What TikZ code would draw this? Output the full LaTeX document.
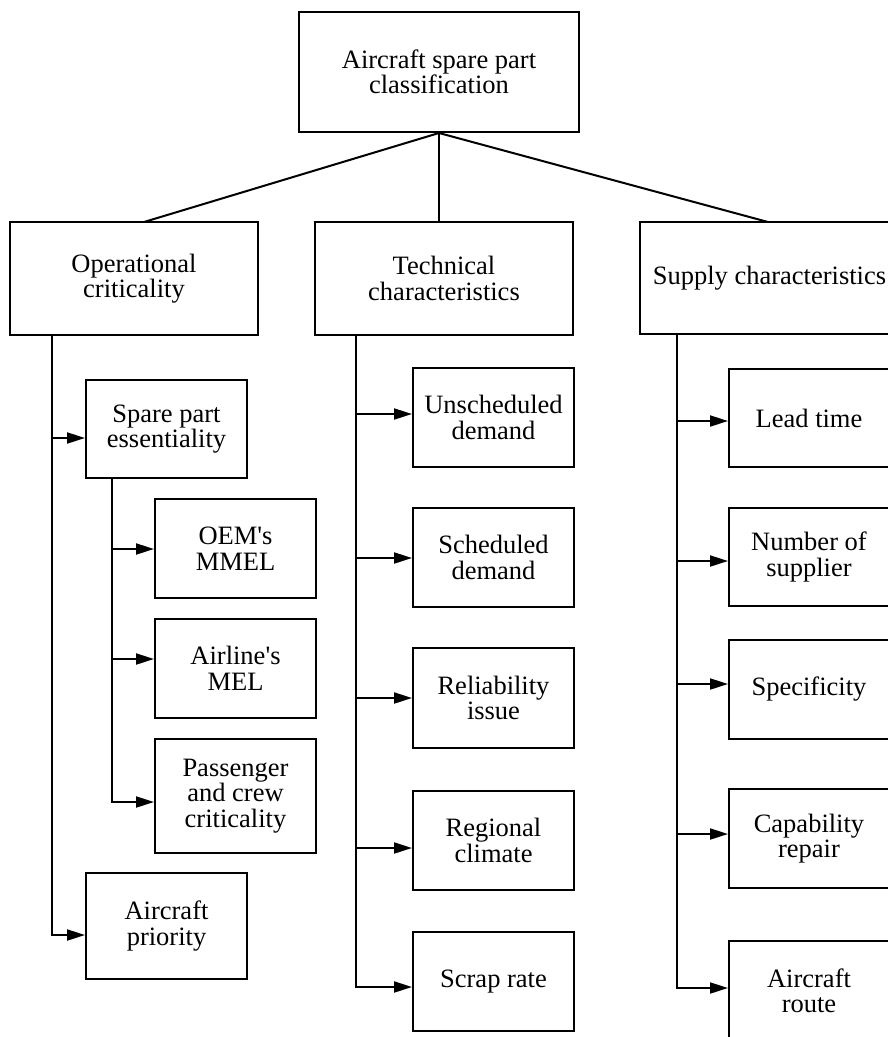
\documentclass[tikz,border=0pt]{standalone}
\usepackage{fontspec}
\setmainfont{Liberation Serif}
\usetikzlibrary{arrows.meta,calc}
\tikzset{
  box/.style={draw, line width=2pt, rectangle, align=center, inner sep=0pt,
    font=\fontsize{26.5}{25.5}\selectfont},
  wire/.style={line width=2pt},
  arr/.style={line width=2pt, -{Triangle[length=18pt,width=11pt]}}
}
\begin{document}
\begin{tikzpicture}[x=1pt,y=-1pt]
\useasboundingbox (0,0) rectangle (888,1037);
\clip (0,0) rectangle (888,1037);
% top
\node[box, minimum width=280pt, minimum height=120pt] (top) at (439,72) {Aircraft spare part\\classification};
% level 2
\node[box, minimum width=248pt, minimum height=113pt] (op) at (134,278.5) {Operational\\criticality};
\node[box, minimum width=258pt, minimum height=113pt] (tech) at (444,278.5) {Technical\\characteristics};
\node[box, minimum width=259pt, minimum height=112pt] (sup) at (769.5,278) {Supply characteristics};
% operational subtree
\node[box, minimum width=161pt, minimum height=98pt] (spe) at (166.5,429) {Spare part\\essentiality};
\node[box, minimum width=161pt, minimum height=99pt] (oem) at (235.5,548.5) {OEM\textquotesingle s\\MMEL};
\node[box, minimum width=161pt, minimum height=99pt] (air) at (235.5,668.5) {Airline\textquotesingle s\\MEL};
\node[box, minimum width=161pt, minimum height=114pt] (pas) at (235.5,796) {Passenger\\and crew\\criticality};
\node[box, minimum width=161pt, minimum height=106pt] (pri) at (166.5,926) {Aircraft\\priority};
% technical subtree
\node[box, minimum width=161pt, minimum height=99pt] (uns) at (493.5,417.5) {Unscheduled\\demand};
\node[box, minimum width=161pt, minimum height=99pt] (sch) at (493.5,557.5) {Scheduled\\demand};
\node[box, minimum width=161pt, minimum height=100pt] (rel) at (493.5,698) {Reliability\\issue};
\node[box, minimum width=161pt, minimum height=99pt] (reg) at (493.5,840.5) {Regional\\climate};
\node[box, minimum width=161pt, minimum height=99pt] (scr) at (493.5,981.5) {Scrap rate};
% supply subtree
\node[box, minimum width=160pt, minimum height=98pt] (lead) at (809,418) {Lead time};
\node[box, minimum width=160pt, minimum height=98pt] (num) at (809,557) {Number of\\supplier};
\node[box, minimum width=160pt, minimum height=99pt] (spec) at (809,689.5) {Specificity};
\node[box, minimum width=160pt, minimum height=99pt] (cap) at (809,838.5) {Capability\\repair};
\node[box, minimum width=160pt, minimum height=100pt] (route) at (809,991) {Aircraft\\route};
% top connectors
\coordinate (opIn) at (144,222);
\coordinate (supIn) at (768,222);
\draw[wire] (top.south) -- (opIn);
\draw[wire] (top.south) -- (top.south |- tech.north);
\draw[wire] (top.south) -- (supIn);
% operational branches
\coordinate (o1) at (52,438);
\coordinate (o2) at (52,935);
\coordinate (s0) at (112,478);
\coordinate (s1) at (112,549);
\coordinate (s2) at (112,659);
\coordinate (s3) at (112,802);
\draw[arr] (op.south -| o1) |- (pri.west |- o2);
\draw[arr] (o1) -- (spe.west |- o1);
\draw[arr] (s0) |- (pas.west |- s3);
\draw[arr] (s1) -- (oem.west |- s1);
\draw[arr] (s2) -- (air.west |- s2);
% technical branches
\coordinate (t1) at (356,414);
\coordinate (t2) at (356,558);
\coordinate (t3) at (356,698);
\coordinate (t4) at (356,848);
\coordinate (t5) at (356,987);
\draw[arr] (tech.south -| t1) |- (scr.west |- t5);
\draw[arr] (t1) -- (uns.west |- t1);
\draw[arr] (t2) -- (sch.west |- t2);
\draw[arr] (t3) -- (rel.west |- t3);
\draw[arr] (t4) -- (reg.west |- t4);
% supply branches
\coordinate (u1) at (677,421);
\coordinate (u2) at (677,561);
\coordinate (u3) at (677,684);
\coordinate (u4) at (677,834);
\coordinate (u5) at (677,988);
\draw[arr] (sup.south -| u1) |- (route.west |- u5);
\draw[arr] (u1) -- (lead.west |- u1);
\draw[arr] (u2) -- (num.west |- u2);
\draw[arr] (u3) -- (spec.west |- u3);
\draw[arr] (u4) -- (cap.west |- u4);
\end{tikzpicture}
\end{document}
